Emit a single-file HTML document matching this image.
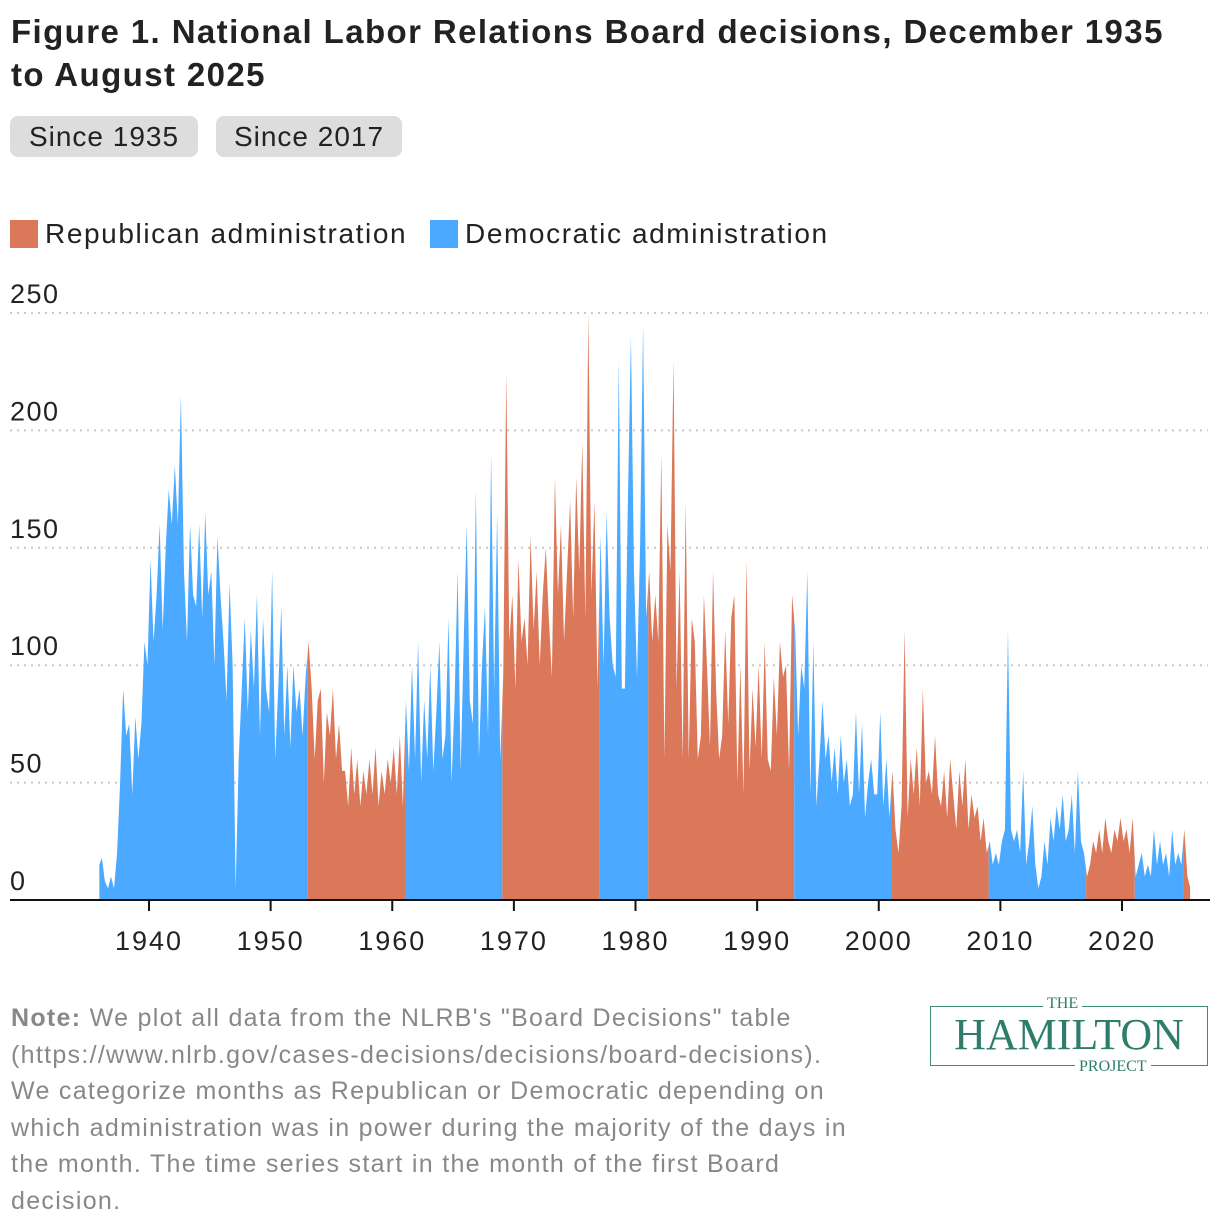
<!DOCTYPE html>
<html><head><meta charset="utf-8">
<style>
body{margin:0;background:#fff;font-family:"Liberation Sans",sans-serif;}
#wrap{position:relative;width:1220px;height:1232px;overflow:hidden;}
.title{position:absolute;left:11px;top:10px;font-size:33px;font-weight:bold;color:#222;line-height:43px;width:1210px;letter-spacing:1.4px;white-space:nowrap;}
.btn{position:absolute;top:116px;height:41px;background:#ddd;border-radius:8px;font-size:28px;color:#222;line-height:41px;text-align:center;letter-spacing:1px;}
.leg{position:absolute;top:216px;font-size:28px;color:#222;line-height:36px;letter-spacing:1.6px;white-space:nowrap;}
.sw{display:inline-block;width:28px;height:28px;vertical-align:-5px;margin-right:7px;}
.note{position:absolute;left:11px;top:1000px;width:900px;font-size:25px;line-height:36.6px;color:#888;letter-spacing:1.3px;white-space:nowrap;}
</style></head><body>
<div id="wrap">
<div class="title">Figure 1. National Labor Relations Board decisions, December 1935<br>to August 2025</div>
<div class="btn" style="left:10px;width:188px">Since 1935</div>
<div class="btn" style="left:216px;width:186px">Since 2017</div>
<div class="leg" style="left:10px"><span class="sw" style="background:#db7859"></span>Republican administration</div>
<div class="leg" style="left:430px"><span class="sw" style="background:#4baaff"></span>Democratic administration</div>
<svg id="chart" width="1220" height="980" style="position:absolute;left:0;top:0"></svg>
<div class="note"><b>Note:</b> We plot all data from the NLRB's "Board Decisions" table<br>(https://www.nlrb.gov/cases-decisions/decisions/board-decisions).<br>We categorize months as Republican or Democratic depending on<br>which administration was in power during the majority of the days in<br>the month. The time series start in the month of the first Board<br>decision.</div>
<div style="position:absolute;left:930px;top:1006px;width:278px;height:60px;border:1.5px solid #3b8c78;box-sizing:border-box;color:#2e7d6b;font-family:'Liberation Serif',serif;text-align:center;">
<div style="position:absolute;top:-12px;left:112px;background:#fff;padding:0 4px;font-size:16px;">THE</div>
<div style="position:absolute;top:6px;width:100%;font-size:44px;line-height:44px;">HAMILTON</div>
<div style="position:absolute;bottom:-11px;left:144px;background:#fff;padding:0 4px;font-size:16px;">PROJECT</div>
</div>
</div>
<script>
const startYear = 1936;
const quarterlyValues = [
18,8,5,10, 5,20,50,90, 70,75,45,78, 60,75,110,100,
145,110,130,160, 115,150,175,160, 185,160,215,140, 110,160,130,125, 160,120,165,130,
140,100,155,130, 110,85,135,100, 5,60,90,120, 80,115,90,130, 70,120,90,80,
140,60,90,125, 70,100,65,100, 80,90,70,95, 110,90,60,85, 90,50,80,70,
90,60,75,55, 55,40,65,45, 60,40,55,45, 60,45,65,40, 55,45,60,50,
65,45,70,40, 85,55,100,60, 110,50,85,60, 100,55,80,110, 60,70,120,50,
85,140,55,110, 160,85,75,175, 60,100,125,70, 190,90,165,60, 95,225,110,130,
90,145,110,120, 100,155,115,140, 100,130,150,120, 95,180,130,160, 110,140,170,120,
180,140,195,120, 250,130,170,90, 155,100,165,120, 100,95,230,90, 90,170,240,140,
95,150,245,120, 140,110,130,110, 190,60,160,140, 230,90,140,60, 170,60,120,110,
60,70,130,100, 65,140,90,60, 70,115,75,120, 130,50,100,45, 145,55,90,65,
100,60,110,60, 55,95,70,110, 95,100,55,130, 115,70,100,90, 140,45,110,40,
60,85,60,70, 50,65,45,70, 50,60,40,45, 80,45,75,35, 50,60,45,45,
80,40,60,35, 55,30,20,40, 115,35,60,45, 65,40,90,50, 55,45,70,45,
40,55,35,60, 45,30,55,40, 60,30,45,35, 40,25,35,20, 25,15,20,15,
25,30,115,30, 25,30,20,55, 15,25,40,15, 5,10,25,15, 35,25,40,30,
45,25,30,45, 20,55,25,20, 10,15,25,20, 30,20,35,25, 20,30,25,35,
25,30,20,35, 10,15,20,10, 15,10,30,15, 25,15,20,10, 30,15,20,15,
30,10,5
];
const adminStarts = [1935.917,1953.05,1961.05,1969.05,1977.05,1981.05,1993.05,2001.05,2009.05,2017.05,2021.05,2025.05];
const adminEnds   = [1953.05,1961.05,1969.05,1977.05,1981.05,1993.05,2001.05,2009.05,2017.05,2021.05,2025.05,2025.6];
const adminParty  = ["D","R","D","R","D","R","D","R","D","R","D","R"];
const yTicks = [0,50,100,150,200,250];
const xTicks = [1940,1950,1960,1970,1980,1990,2000,2010,2020];

const X = t => 149 + (t-1940)*12.1625;
const Y = v => 900 - v*2.348;
const NS="http://www.w3.org/2000/svg";
const svg=document.getElementById('chart');
function mk(tag,attrs){const e=document.createElementNS(NS,tag);for(const k in attrs)e.setAttribute(k,attrs[k]);svg.appendChild(e);return e;}

const pts=[{t:1935.917,v:15}];
quarterlyValues.forEach((v,i)=>pts.push({t:startYear+i*0.25+0.125,v:v}));
pts.push({t:2025.6,v:0});
function valAt(t){
  for(let i=0;i<pts.length-1;i++){const a=pts[i],b=pts[i+1];if(t>=a.t&&t<=b.t){return a.v+(b.v-a.v)*(t-a.t)/(b.t-a.t);}}
  return 0;
}
yTicks.forEach(v=>{
  if(v>0){const g=mk('line',{x1:10,x2:1208,y1:Y(v),y2:Y(v),stroke:'#c8c8c8','stroke-width':2,'stroke-dasharray':'2,5'});
  
  }
  const t=mk('text',{x:10,y:Y(v)-10,'font-size':27,fill:'#222','font-family':'Liberation Sans, sans-serif','letter-spacing':'1.5'});
  
  
  t.textContent=v;
});
adminStarts.forEach((s,i)=>{
  const e=adminEnds[i];
  let d='M'+X(s)+','+Y(0)+' L'+X(s)+','+Y(valAt(s));
  pts.forEach(p=>{if(p.t>s&&p.t<e)d+=' L'+X(p.t)+','+Y(p.v);});
  d+=' L'+X(e)+','+Y(valAt(e))+' L'+X(e)+','+Y(0)+'Z';
  const p=mk('path',{d:d,fill:adminParty[i]==='R'?'#db7859':'#4baaff'});
  
  
});
const ax=mk('line',{x1:10,x2:1210,y1:900,y2:900,stroke:'#111','stroke-width':2});


xTicks.forEach(y=>{
  const l=mk('line',{x1:X(y),x2:X(y),y1:900,y2:911,stroke:'#111','stroke-width':2});
  
  
  const t=mk('text',{x:X(y),y:950,'font-size':27,fill:'#222','text-anchor':'middle','font-family':'Liberation Sans, sans-serif','letter-spacing':'2'});
  
  
  t.textContent=y;
});
</script>
</body></html>
